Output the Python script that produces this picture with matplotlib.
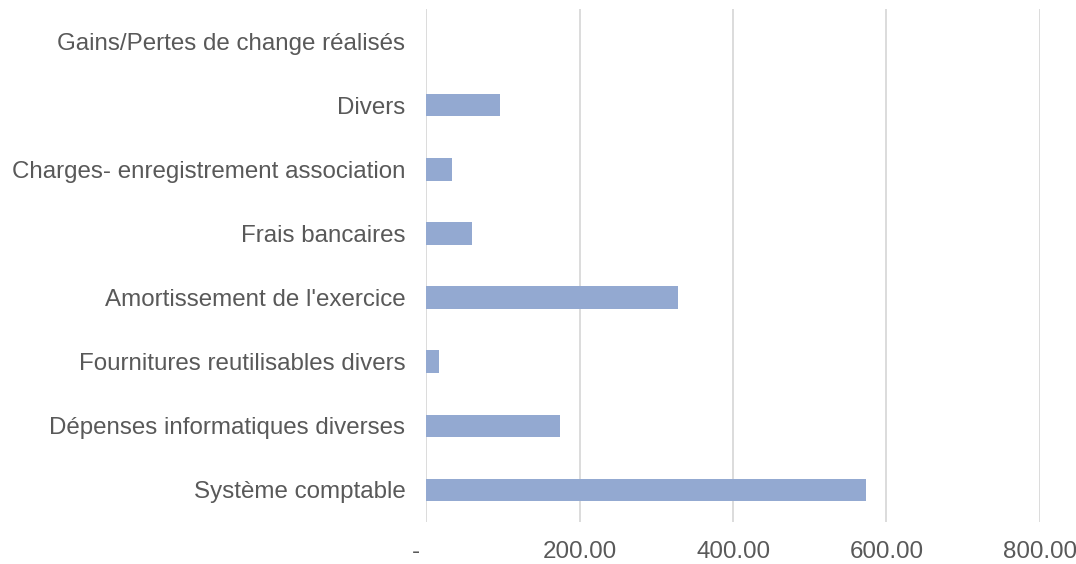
import matplotlib.pyplot as plt
from matplotlib.ticker import FuncFormatter

plt.rcParams['font.family'] = ['Liberation Sans', 'DejaVu Sans']

categories = [
    "Système comptable",
    "Dépenses informatiques diverses",
    "Fournitures reutilisables divers",
    "Amortissement de l'exercice",
    "Frais bancaires",
    "Charges- enregistrement association",
    "Divers",
    "Gains/Pertes de change réalisés",
]
values = [573, 175, 17, 328, 60, 34, 96, 0.5]
x_ticks = [0, 200, 400, 600, 800]

fig = plt.figure(figsize=(10.76, 5.64), dpi=100)
ax = fig.add_axes([0.396, 0.0745, 0.5705, 0.9095])

ax.barh(range(len(categories)), values, height=0.35, color="#93A9D1", zorder=3)

ax.set_ylim(-0.5, len(categories) - 0.5)
ax.set_xlim(0, 800)
ax.set_xticks(x_ticks)
# format comptable : zéro affiché comme un tiret
ax.xaxis.set_major_formatter(FuncFormatter(lambda v, p: "-   " if v == 0 else f"{v:,.2f}"))
ax.set_yticks(range(len(categories)))
ax.set_yticklabels(categories)

ax.grid(axis="x", color="#D9D9D9", linewidth=1.3, zorder=0)
for s in ax.spines.values():
    s.set_visible(False)
ax.tick_params(length=0, labelsize=17.4, colors="#595959")
ax.tick_params(axis="x", pad=14)
ax.tick_params(axis="y", pad=15)

fig.savefig("out.png", dpi=100)
